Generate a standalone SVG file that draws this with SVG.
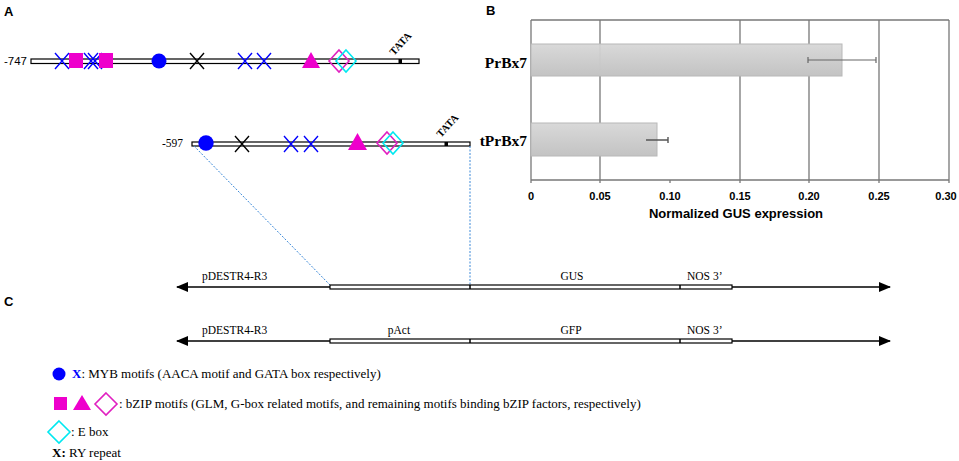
<svg xmlns="http://www.w3.org/2000/svg" width="959" height="461" viewBox="0 0 959 461">
<defs>
<style>
.lbl{font-family:"Liberation Sans",Arial,sans-serif;font-weight:bold;font-size:13px;fill:#000}
.tm{font-family:"Liberation Serif","Times New Roman",serif;font-size:11.5px;fill:#000}
.lg{font-family:"Liberation Serif","Times New Roman",serif;font-size:13px;fill:#000}
.tata{font-family:"Liberation Serif","Times New Roman",serif;font-weight:bold;font-size:10.5px;fill:#000}
.bar{fill:#fff;stroke:#000;stroke-width:1.2}
.xb{stroke:#0000ff;stroke-width:1.4;fill:none}
.xk{stroke:#000;stroke-width:1.4;fill:none}
.sq{fill:#ee00cc}
.pd{fill:none;stroke:#e020c0;stroke-width:1.6}
.cd{fill:none;stroke:#00e8f0;stroke-width:1.6}
.grid{stroke:#777;stroke-width:1.3}
.tick{font-family:"Liberation Sans",Arial,sans-serif;font-weight:bold;font-size:11px;fill:#000}
.blab{font-family:"Liberation Serif","Times New Roman",serif;font-weight:bold;font-size:15.5px;fill:#000}
.ln{stroke:#000;stroke-width:1.5}
.dot{stroke:#3a88d8;stroke-width:1;stroke-dasharray:2,1.5;fill:none}
</style>
<linearGradient id="g" x1="0" y1="0" x2="0" y2="1">
<stop offset="0" stop-color="#d9d9d9"/>
<stop offset="1" stop-color="#c3c3c3"/>
</linearGradient>
<marker id="ah" viewBox="0 0 12 10" refX="11" refY="5" markerWidth="12" markerHeight="10" markerUnits="userSpaceOnUse" orient="auto-start-reverse">
<path d="M0,0 L12,5 L0,10 Z" fill="#000"/>
</marker>
<g id="xs"><path d="M-7,-8 L7,8 M-7,8 L7,-8"/></g>
</defs>
<rect width="959" height="461" fill="#fff"/>

<text class="lbl" x="4" y="16">A</text>
<text class="lbl" x="486" y="15">B</text>
<text class="lbl" x="4" y="306">C</text>

<!-- Promoter full -->
<g id="promoter-full">
<text x="4" y="65" font-family="Liberation Sans,Arial,sans-serif" font-size="11.5">-747</text>
<rect class="bar" x="31" y="59" width="388" height="4.5"/>
<use href="#xs" class="xb" x="62" y="61"/>
<rect class="sq" x="69" y="53" width="14" height="15"/>
<use href="#xs" class="xb" x="91" y="61"/>
<use href="#xs" class="xb" x="95" y="61"/>
<rect class="sq" x="99" y="53" width="14" height="15"/>
<circle cx="159" cy="61" r="7.5" fill="#0000ff"/>
<use href="#xs" class="xk" x="197" y="61"/>
<use href="#xs" class="xb" x="245" y="61"/>
<use href="#xs" class="xb" x="264" y="61"/>
<path class="sq" d="M302,68 L320,68 L311,52 Z"/>
<path class="pd" d="M339,50 L349,61 L339,72 L329,61 Z"/>
<path class="cd" d="M346,50 L356,61 L346,72 L336,61 Z"/>
<rect x="398.5" y="59" width="3.5" height="4.5" fill="#000"/>
<text class="tata" transform="translate(394,56) rotate(-48)">TATA</text>
</g>

<!-- Promoter truncated -->
<g id="promoter-trunc">
<text class="tm" x="162" y="147">-597</text>
<rect class="bar" x="192" y="142" width="278" height="4"/>
<circle cx="206" cy="143" r="7.7" fill="#0000ff"/>
<use href="#xs" class="xk" x="242" y="144"/>
<use href="#xs" class="xb" x="291" y="144"/>
<use href="#xs" class="xb" x="311" y="144"/>
<path class="sq" d="M348,150 L367,150 L357.5,133 Z"/>
<path class="pd" d="M387,132 L397,143 L387,154 L377,143 Z"/>
<path class="cd" d="M393,132 L403,143 L393,154 L383,143 Z"/>
<rect x="444.5" y="142" width="3.5" height="4" fill="#000"/>
<text class="tata" transform="translate(441,138) rotate(-48)">TATA</text>
</g>

<!-- Chart -->
<g id="chart">
<line class="grid" x1="531" y1="20" x2="949" y2="20"/>
<line class="grid" x1="531" y1="20" x2="531" y2="183"/>
<line class="grid" x1="600" y1="20" x2="600" y2="183"/>
<line class="grid" x1="670" y1="180" x2="670" y2="183"/>
<line class="grid" x1="740" y1="20" x2="740" y2="183"/>
<line class="grid" x1="809" y1="20" x2="809" y2="183"/>
<line class="grid" x1="879" y1="20" x2="879" y2="183"/>
<line class="grid" x1="949" y1="20" x2="949" y2="183"/>
<line class="grid" x1="531" y1="180" x2="949" y2="180"/>
<rect x="531" y="44" width="311" height="32" fill="url(#g)" stroke="#b8b8b8" stroke-width="1"/>
<rect x="531" y="123" width="126" height="33" fill="url(#g)" stroke="#b8b8b8" stroke-width="1"/>
<line x1="600" y1="44" x2="600" y2="76" stroke="#c8c8c8" stroke-width="0.6"/>
<path d="M808,60 H876 M808,57 V63 M876,57 V63" stroke="#666" stroke-width="1.2" fill="none"/>
<path d="M646,140 H668 M668,137 V143" stroke="#555" stroke-width="1.4" fill="none"/>
<text class="blab" x="527" y="68" text-anchor="end">PrBx7</text>
<text class="blab" x="527" y="146" text-anchor="end">tPrBx7</text>
<g class="tick" text-anchor="middle">
<text x="531" y="200">0</text>
<text x="600" y="200">0.05</text>
<text x="670" y="200">0.10</text>
<text x="740" y="200">0.15</text>
<text x="809" y="200">0.20</text>
<text x="879" y="200">0.25</text>
<text x="946" y="200">0.30</text>
</g>
<text class="lbl" x="736" y="218" text-anchor="middle">Normalized GUS expression</text>
</g>

<!-- Connectors -->
<g id="connectors">
<line class="dot" x1="194" y1="146" x2="330" y2="285"/>
<line class="dot" x1="470" y1="146" x2="470" y2="285"/>
</g>

<!-- Construct 1 -->
<g id="construct-gus">
<line class="ln" x1="177" y1="287" x2="890" y2="287" marker-start="url(#ah)" marker-end="url(#ah)"/>
<rect class="bar" x="330" y="285" width="402" height="4"/>
<line class="ln" x1="470" y1="285" x2="470" y2="289" stroke-width="1"/>
<line class="ln" x1="680" y1="285" x2="680" y2="289" stroke-width="1"/>
<text class="tm" x="202" y="280">pDESTR4-R3</text>
<text class="tm" x="572" y="280" text-anchor="middle">GUS</text>
<text class="tm" x="687" y="280">NOS 3’</text>
</g>

<!-- Construct 2 -->
<g id="construct-gfp">
<line class="ln" x1="177" y1="341" x2="890" y2="341" marker-start="url(#ah)" marker-end="url(#ah)"/>
<rect class="bar" x="330" y="339" width="402" height="4"/>
<line class="ln" x1="470" y1="339" x2="470" y2="343" stroke-width="1"/>
<line class="ln" x1="680" y1="339" x2="680" y2="343" stroke-width="1"/>
<text class="tm" x="202" y="334">pDESTR4-R3</text>
<text class="tm" x="399" y="334" text-anchor="middle">pAct</text>
<text class="tm" x="571" y="334" text-anchor="middle">GFP</text>
<text class="tm" x="687" y="334">NOS 3’</text>
</g>

<!-- Legend -->
<g id="legend">
<circle cx="59" cy="374" r="6.5" fill="#0000ff"/>
<text class="lg" x="72" y="378"><tspan fill="#0000ff" font-weight="bold">X</tspan>: MYB motifs (AACA motif and GATA box respectively)</text>
<rect class="sq" x="54" y="397" width="13" height="13"/>
<path class="sq" d="M73,410 L91,410 L82,395 Z"/>
<path class="pd" d="M106,393 L117,404 L106,415 L95,404 Z"/>
<text class="lg" x="119" y="408">: bZIP motifs (GLM, G-box related motifs, and remaining motifs binding bZIP factors, respectively)</text>
<path class="cd" d="M59,421 L70,432 L59,443 L48,432 Z"/>
<text class="lg" x="71" y="436">: E box</text>
<text class="lg" x="52" y="457"><tspan font-weight="bold">X:</tspan> RY repeat</text>
</g>
</svg>
